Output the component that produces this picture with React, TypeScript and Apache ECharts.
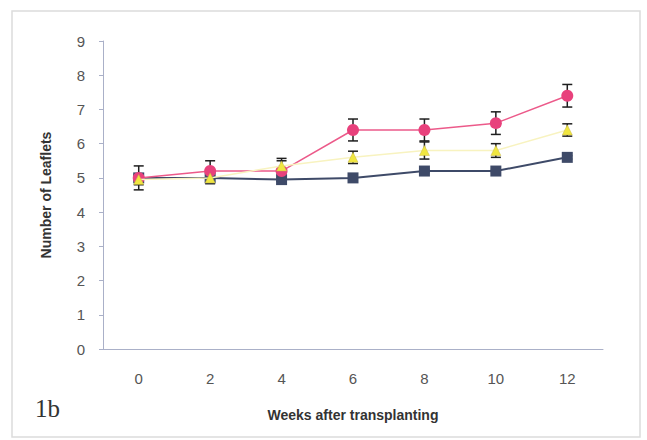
import React, { useEffect, useRef } from "react";
import * as echarts from "echarts";

const weeks = ["0", "2", "4", "6", "8", "10", "12"];
const pinkValues = [5.0, 5.2, 5.2, 6.4, 6.4, 6.6, 7.4];
const pinkErr = [0.35, 0.3, 0.3, 0.32, 0.32, 0.33, 0.33];
const yellowValues = [4.95, 5.0, 5.35, 5.6, 5.8, 5.8, 6.4];
const yellowErr = [0.15, 0.17, 0.22, 0.18, 0.25, 0.2, 0.18];
const blueValues = [5.0, 5.0, 4.95, 5.0, 5.2, 5.2, 5.6];
const blueErr = [0.05, 0.05, 0.05, 0.04, 0.05, 0.05, 0.05];
const yTicks = [0, 9, 1]; // min, max, interval

function errData(vals: number[], errs: number[]) {
  return vals.map((v, i) => [i, v - errs[i], v + errs[i]]);
}

function errSeries(vals: number[], errs: number[], z: number) {
  return {
    type: "custom",
    z,
    silent: true,
    renderItem: (params: any, api: any) => {
      const i = api.value(0);
      const lo = api.coord([i, api.value(1)]);
      const hi = api.coord([i, api.value(2)]);
      const cap = 5;
      const style = { stroke: "#1e1e1e", lineWidth: 1.5 };
      return {
        type: "group",
        children: [
          { type: "line", shape: { x1: hi[0], y1: hi[1], x2: lo[0], y2: lo[1] }, style },
          { type: "line", shape: { x1: hi[0] - cap, y1: hi[1], x2: hi[0] + cap, y2: hi[1] }, style },
          { type: "line", shape: { x1: lo[0] - cap, y1: lo[1], x2: lo[0] + cap, y2: lo[1] }, style },
        ],
      };
    },
    data: errData(vals, errs),
  };
}

export default function App() {
  const ref = useRef<HTMLDivElement>(null);
  useEffect(() => {
    if (!ref.current) return;
    const chart = echarts.init(ref.current, undefined, { renderer: "svg" });
    chart.setOption({
      animation: false,
      backgroundColor: "#ffffff",
      textStyle: { fontFamily: "Liberation Sans, Arial, sans-serif" },
      grid: { left: 103, right: 44, top: 41, bottom: 91 },
      graphic: [
        {
          type: "rect",
          shape: { x: 12, y: 11, width: 628, height: 426 },
          style: { fill: "none", stroke: "#dcdcdc", lineWidth: 1.5 },
          silent: true,
        },
        {
          type: "text",
          left: 35,
          top: 396,
          style: {
            text: "1b",
            font: "25px 'Liberation Serif', 'DejaVu Serif', serif",
            fill: "#333",
          },
        },
      ],
      xAxis: {
        type: "category",
        data: weeks,
        boundaryGap: true,
        name: "Weeks after transplanting",
        nameLocation: "middle",
        nameGap: 59,
        nameTextStyle: { fontSize: 14, fontWeight: "bold", color: "#333" },
        axisLine: { lineStyle: { color: "#aab0c8", width: 1 } },
        axisTick: { length: 4, lineStyle: { color: "#aab0c8" } },
        axisLabel: { fontSize: 15, color: "#555", margin: 22 },
      },
      yAxis: {
        type: "value",
        min: yTicks[0],
        max: yTicks[1],
        interval: yTicks[2],
        name: "Number of Leaflets",
        nameLocation: "middle",
        nameGap: 50,
        nameTextStyle: { fontSize: 14, fontWeight: "bold", color: "#333" },
        splitLine: { show: false },
        axisLine: { show: true, lineStyle: { color: "#aab0c8", width: 1 } },
        axisTick: { show: true, length: 4, lineStyle: { color: "#aab0c8" } },
        axisLabel: { fontSize: 15, color: "#555", margin: 18 },
      },
      series: [
        errSeries(pinkValues, pinkErr, 1),
        errSeries(yellowValues, yellowErr, 1),
        errSeries(blueValues, blueErr, 1),
        {
          type: "line",
          z: 3,
          data: blueValues,
          symbol: "rect",
          symbolSize: 11,
          lineStyle: { color: "#3e4a68", width: 2 },
          itemStyle: { color: "#3e4a68" },
        },
        {
          type: "line",
          z: 4,
          data: pinkValues,
          symbol: "circle",
          symbolSize: 12,
          lineStyle: { color: "#ec5a8a", width: 1.5 },
          itemStyle: { color: "#e8417c" },
        },
        {
          type: "line",
          z: 5,
          data: yellowValues,
          symbol: "triangle",
          symbolSize: 10,
          lineStyle: { color: "#f8f3c0", width: 1.5 },
          itemStyle: { color: "#f0e640", borderColor: "#c9b84a", borderWidth: 0.5 },
        },
      ],
    });
    return () => chart.dispose();
  }, []);
  return (
    <div
      ref={ref}
      style={{ position: "fixed", left: 0, top: 0, width: 647, height: 440 }}
    />
  );
}
